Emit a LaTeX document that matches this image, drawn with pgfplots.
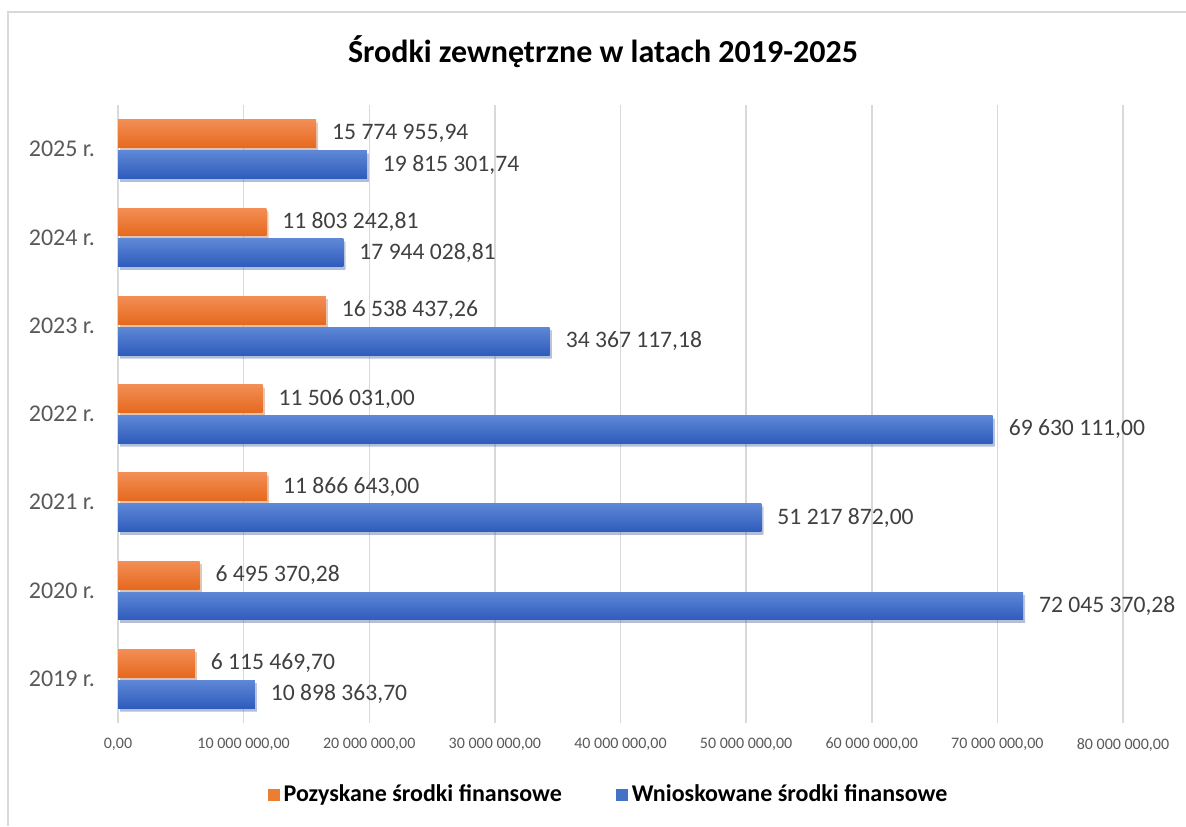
\documentclass[border=0pt]{standalone}
\usepackage{pgfplots}
\pgfplotsset{compat=1.18}
\usepackage{fontspec}
\setmainfont{Carlito}
\usetikzlibrary{shadows}
\definecolor{oTop}{RGB}{243,142,85}
\definecolor{oBot}{RGB}{229,105,30}
\definecolor{oMid}{RGB}{237,125,49}
\definecolor{bTop}{RGB}{94,135,214}
\definecolor{bBot}{RGB}{46,92,188}
\definecolor{bMid}{RGB}{68,114,196}
\definecolor{labc}{RGB}{64,64,64}
\definecolor{tickc}{RGB}{89,89,89}
\definecolor{gridc}{RGB}{217,217,217}
\begin{document}
\begin{tikzpicture}
\useasboundingbox (0,0) rectangle (593pt,413pt);
\draw[gridc, line width=0.75pt] (4pt,0) -- (4pt,407pt) -- (593pt,407pt);
\node[font=\bfseries\fontsize{16}{19}\selectfont, text=black] at (301.5pt,387pt) {Środki zewnętrzne w latach 2019-2025};
\begin{axis}[
  at={(59pt,51.5pt)}, anchor=south west,
  scale only axis, width=502.5pt, height=309pt,
  xmin=0, xmax=80000000, ymin=-0.5, ymax=6.5,
  axis line style={draw=none},
  major tick length=0pt,
  scaled x ticks=false,
  xtick={0,10000000,20000000,30000000,40000000,50000000,60000000,70000000,80000000},
  xticklabels={{0,00},{10 000 000,00},{20 000 000,00},{30 000 000,00},{40 000 000,00},{50 000 000,00},{60 000 000,00},{70 000 000,00},{80 000 000,00}},
  xticklabel style={font=\fontsize{8}{10}\selectfont, text=tickc, yshift=-4pt},
  ytick={0,1,2,3,4,5,6},
  yticklabels={2019 r.,2020 r.,2021 r.,2022 r.,2023 r.,2024 r.,2025 r.},
  yticklabel style={font=\fontsize{12}{14}\selectfont, text=tickc, xshift=-8pt},
  xmajorgrids, grid style={color=gridc, line width=0.75pt},
  xbar, bar width=0.316,
  legend style={at={(0.5,-0.1165)}, anchor=center, xshift=-5.5pt, draw=none, fill=none,
    font=\bfseries\fontsize{12}{14}\selectfont,
    /tikz/every even column/.append style={column sep=25pt}},
  legend columns=2,
  legend image code/.code={\fill[#1] (0pt,-3pt) rectangle (6pt,3pt);},
  oB/.style={forget plot, bar shift=0.175, draw=none, top color=oTop, bottom color=oBot,
    drop shadow={opacity=0.25, shadow xshift=1pt, shadow yshift=-1.5pt}},
  bB/.style={forget plot, bar shift=-0.175, draw=none, top color=bTop, bottom color=bBot,
    drop shadow={opacity=0.25, shadow xshift=1pt, shadow yshift=-1.5pt}},
  lab/.style={forget plot, draw=none, fill=none, bar shift=#1,
    nodes near coords, point meta=explicit symbolic,
    every node near coord/.append style={anchor=west, xshift=4.5pt, text=labc, font=\fontsize{11.8}{14}\selectfont}},
]
\addlegendimage{fill=oMid, draw=none}
\addlegendentry{Pozyskane środki finansowe}
\addlegendimage{fill=bMid, draw=none}
\addlegendentry{Wnioskowane środki finansowe}

% Pozyskane (orange)
\addplot[oB] coordinates {(6115469.70,0)};
\addplot[oB] coordinates {(6495370.28,1)};
\addplot[oB] coordinates {(11866643.00,2)};
\addplot[oB] coordinates {(11506031.00,3)};
\addplot[oB] coordinates {(16538437.26,4)};
\addplot[oB] coordinates {(11803242.81,5)};
\addplot[oB] coordinates {(15774955.94,6)};
% Wnioskowane (blue)
\addplot[bB] coordinates {(10898363.70,0)};
\addplot[bB] coordinates {(72045370.28,1)};
\addplot[bB] coordinates {(51217872.00,2)};
\addplot[bB] coordinates {(69630111.00,3)};
\addplot[bB] coordinates {(34367117.18,4)};
\addplot[bB] coordinates {(17944028.81,5)};
\addplot[bB] coordinates {(19815301.74,6)};

% labels
\addplot[lab=0.175] coordinates {
  (6115469.70,0) [6 115 469,70]
  (6495370.28,1) [6 495 370,28]
  (11866643.00,2) [11 866 643,00]
  (11506031.00,3) [11 506 031,00]
  (16538437.26,4) [16 538 437,26]
  (11803242.81,5) [11 803 242,81]
  (15774955.94,6) [15 774 955,94]
};
\addplot[lab=-0.175] coordinates {
  (10898363.70,0) [10 898 363,70]
  (72045370.28,1) [72 045 370,28]
  (51217872.00,2) [51 217 872,00]
  (69630111.00,3) [69 630 111,00]
  (34367117.18,4) [34 367 117,18]
  (17944028.81,5) [17 944 028,81]
  (19815301.74,6) [19 815 301,74]
};
\end{axis}
\end{tikzpicture}
\end{document}
